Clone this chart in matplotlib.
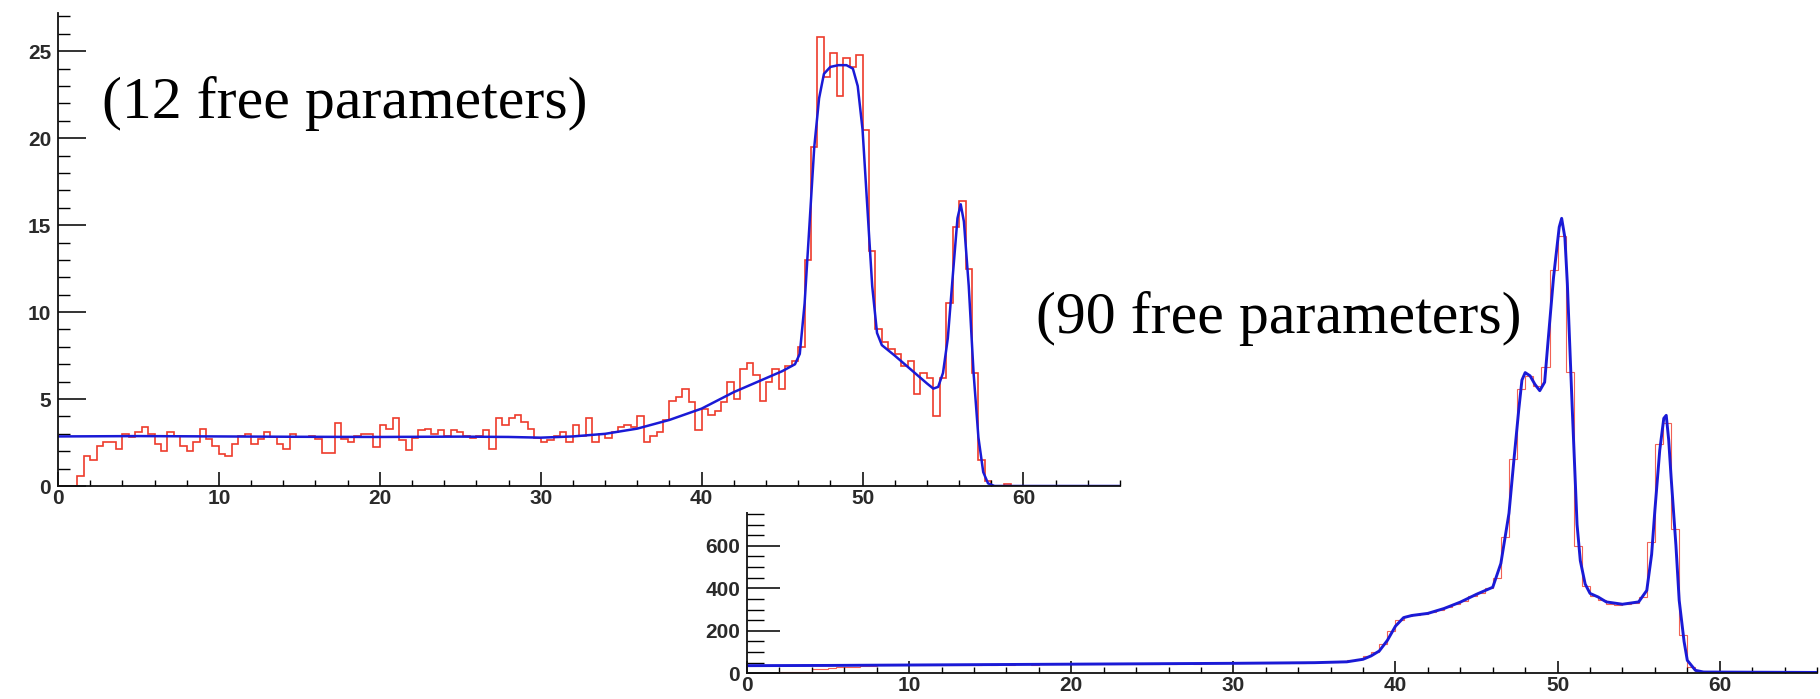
import matplotlib
matplotlib.use('Agg')
import matplotlib.pyplot as plt
import numpy as np
from matplotlib.patches import Rectangle
from matplotlib.ticker import MultipleLocator

# ---------------- data ----------------
# top histogram: 165 bins of width 0.4 on [0, 66]
top_bin_width = 0.4
top_counts = [
    0, 0, 0, 0.6, 1.7, 1.5, 2.3, 2.55, 2.55, 2.1,
    3.0, 2.8, 3.1, 3.4, 3.0, 2.4, 2.0, 3.1, 2.9, 2.3,
    2.0, 2.55, 3.3, 2.7, 2.3, 1.85, 1.7, 2.4, 2.85, 3.0,
    2.4, 2.7, 3.1, 2.8, 2.4, 2.1, 3.0, 2.8, 2.8, 2.9,
    2.7, 1.9, 1.9, 3.6, 2.7, 2.55, 2.9, 3.0, 3.0, 2.25,
    3.5, 3.3, 3.9, 2.65, 2.07, 2.75, 3.2, 3.3, 3.0, 3.2,
    2.9, 3.2, 3.1, 2.85, 2.75, 2.9, 3.2, 2.15, 3.9, 3.5,
    3.9, 4.1, 3.7, 3.3, 2.75, 2.55, 2.65, 2.9, 3.1, 2.55,
    3.5, 2.9, 3.9, 2.55, 3.0, 2.75, 3.1, 3.4, 3.5, 3.4,
    4.0, 2.55, 2.85, 3.1, 3.8, 4.9, 5.1, 5.6, 4.85, 3.2,
    4.4, 4.1, 4.3, 4.85, 6.0, 5.0, 6.7, 7.1, 6.4, 4.9,
    6.0, 6.75, 5.6, 6.9, 7.2, 8.0, 13.0, 19.5, 25.8, 23.5,
    24.9, 22.4, 24.6, 24.1, 24.8, 20.5, 13.5, 9.0, 8.3, 7.9,
    7.6, 6.9, 7.2, 5.3, 6.5, 6.2, 4.0, 6.2, 10.5, 14.9,
    16.4, 12.5, 6.5, 1.5, 0.3, 0, 0, 0.1, 0, 0,
    0, 0, 0, 0, 0, 0, 0, 0, 0, 0,
    0, 0, 0, 0, 0,
]
top_fit_x = [0, 5, 10, 15, 20, 25, 28, 30, 32, 34, 36, 38, 40, 42, 44, 45, 45.8,
             46.1, 46.4, 46.7, 47.0, 47.3, 47.6, 48.0, 48.5, 49.0, 49.4, 49.7,
             50.0, 50.3, 50.6, 50.9, 51.2, 51.6, 52.0, 52.5, 53.0, 53.5, 54.0,
             54.4, 54.7, 55.0, 55.3, 55.6, 55.9, 56.1, 56.3, 56.6, 56.9, 57.2,
             57.5, 57.8, 58.2, 66]
top_fit_y = [2.85, 2.87, 2.85, 2.83, 2.82, 2.84, 2.82, 2.78, 2.85, 3.0, 3.3, 3.8,
             4.45, 5.4, 6.2, 6.6, 7.0, 7.6, 10.5, 15.0, 19.5, 22.3, 23.7, 24.1,
             24.2, 24.2, 24.0, 23.0, 20.5, 16.0, 11.5, 8.8, 8.1, 7.8, 7.5, 7.1,
             6.7, 6.3, 5.9, 5.6, 5.7, 6.5, 8.5, 12.0, 15.4, 16.2, 15.2, 11.5,
             6.5, 2.8, 0.8, 0.15, 0.0, 0.0]

# bottom histogram: 132 bins of width 0.5 on [0, 66]
bot_bin_width = 0.5
bot_counts = [
    0, 0, 0, 1, 4, 5, 6, 7, 20, 22,
    26, 28, 30, 32, 34, 36, 37, 38, 37, 39,
    38, 39, 40, 39, 40, 41, 40, 41, 40, 42,
    41, 42, 41, 43, 42, 41, 43, 42, 43, 42,
    44, 43, 45, 44, 45, 44, 46, 45, 44, 46,
    46, 47, 45, 47, 48, 46, 47, 48, 47, 49,
    48, 49, 48, 50, 49, 50, 49, 51, 50, 52,
    52, 53, 55, 58, 62, 68, 80, 100, 140, 200,
    250, 268, 274, 280, 290, 300, 312, 328, 342, 362,
    380, 400, 450, 640, 1010, 1340, 1400, 1350, 1440, 1900,
    2060, 1420, 600, 410, 365, 345, 328, 322, 325, 332,
    360, 620, 1080, 1180, 680, 180, 28, 10, 6, 5,
    5, 4, 4, 4, 3, 3, 3, 3, 3, 3,
    3, 3,
]
bot_fit_x = [0, 5, 10, 15, 20, 25, 30, 35, 37, 38, 38.5, 39, 39.5, 40, 40.5, 41,
             42, 43, 44, 45, 46, 46.5, 47, 47.3, 47.6, 47.8, 48, 48.3, 48.6, 48.9,
             49.2, 49.4, 49.75, 50.1, 50.25, 50.45, 50.6, 50.9, 51.2, 51.4, 51.7,
             52, 52.5, 53, 54, 55, 55.5, 55.8, 56, 56.3, 56.55, 56.7, 56.85, 57,
             57.3, 57.5, 57.8, 58, 58.5, 59, 66]
bot_fit_y = [36, 37, 39, 41, 43, 45, 47, 50, 54, 66, 82, 105, 155, 222, 262, 272,
             282, 305, 335, 372, 405, 517, 753, 1000, 1238, 1380, 1415, 1400, 1360,
             1330, 1370, 1553, 1864, 2100, 2141, 2050, 1835, 1252, 700, 530, 420,
             376, 359, 336, 325, 336, 390, 560, 767, 1050, 1200, 1214, 1100, 924,
             600, 343, 150, 61, 14, 6, 4]

top_yticks = [0, 5, 10, 15, 20, 25]
bot_yticks = [0, 200, 400, 600]
xticks = [0, 10, 20, 30, 40, 50, 60]
label_top = "(12 free parameters)"
label_bot = "(90 free parameters)"

# ---------------- figure ----------------
W, H = 1820, 699
fig = plt.figure(figsize=(W / 100, H / 100), dpi=100)
fig.patch.set_facecolor('white')


def fx(px):
    return px / W


def fy(py):
    return 1 - py / H


RED = '#ee3b2b'
BLUE = '#1a1ad6'
LABELSIZE = 15


def style_axes(ax, ymin, ylen, xlen, ypad, xpad):
    for s in ('top', 'right'):
        ax.spines[s].set_visible(False)
    for s in ('left', 'bottom'):
        ax.spines[s].set_linewidth(1.3)
        ax.spines[s].set_color('#111111')
    ax.set_facecolor('none')
    ax.yaxis.set_minor_locator(MultipleLocator(ymin))
    ax.xaxis.set_minor_locator(MultipleLocator(2))
    ax.tick_params(axis='y', which='major', direction='in', length=ylen[0], width=1.2,
                   pad=ypad, colors='#111111', labelsize=LABELSIZE)
    ax.tick_params(axis='y', which='minor', direction='in', length=ylen[1], width=1.0)
    ax.tick_params(axis='x', which='major', direction='in', length=xlen[0], width=1.2,
                   pad=xpad, colors='#111111', labelsize=LABELSIZE)
    ax.tick_params(axis='x', which='minor', direction='in', length=xlen[1], width=1.0)
    for lab in ax.get_xticklabels() + ax.get_yticklabels():
        lab.set_fontfamily('Liberation Sans')
        lab.set_fontweight('bold')
        lab.set_color('#2a2a2a')


# bottom chart (drawn first, partly hidden by the top chart)
bot_h = (2300 / 4.706)
axb = fig.add_axes([fx(747), fy(673.3), (1817 - 747) / W, bot_h / H])
axb.set_zorder(0)
bot_edges = np.arange(len(bot_counts) + 1) * bot_bin_width
axb.stairs(bot_counts, bot_edges, color=RED, linewidth=0.8, alpha=0.8, baseline=None)
axb.plot(bot_fit_x, bot_fit_y, color=BLUE, linewidth=2.1)
axb.set_xlim(0, 66)
axb.set_ylim(0, 2300)
axb.set_xticks(xticks)
axb.set_yticks(bot_yticks)
style_axes(axb, 50, (24, 12), (8.5, 4.5), 5, 2)

# white canvas of the top chart covering the bottom one
fig.add_artist(Rectangle((0, fy(512)), fx(1135), 1 - fy(512), transform=fig.transFigure,
                         facecolor='white', edgecolor='none', zorder=1))

# top chart
axt = fig.add_axes([fx(58), fy(486), (1120 - 58) / W, (486 - 13) / H])
axt.set_zorder(2)
top_edges = np.arange(len(top_counts) + 1) * top_bin_width
axt.stairs(top_counts, top_edges, color=RED, linewidth=1.2, baseline=None)
axt.plot(top_fit_x, top_fit_y, color=BLUE, linewidth=1.8)
axt.set_xlim(0, 66)
axt.set_ylim(0, 27.2)
axt.set_xticks(xticks)
axt.set_yticks(top_yticks)
style_axes(axt, 1, (20, 8.5), (10, 4.5), 5, 2)

fig.text(fx(102), fy(118), label_top, family='Liberation Serif', fontsize=43,
         ha='left', va='baseline', color='black', zorder=5)
fig.text(fx(1036), fy(333), label_bot, family='Liberation Serif', fontsize=43,
         ha='left', va='baseline', color='black', zorder=5)

fig.savefig('out.png', dpi=100, facecolor='white')
